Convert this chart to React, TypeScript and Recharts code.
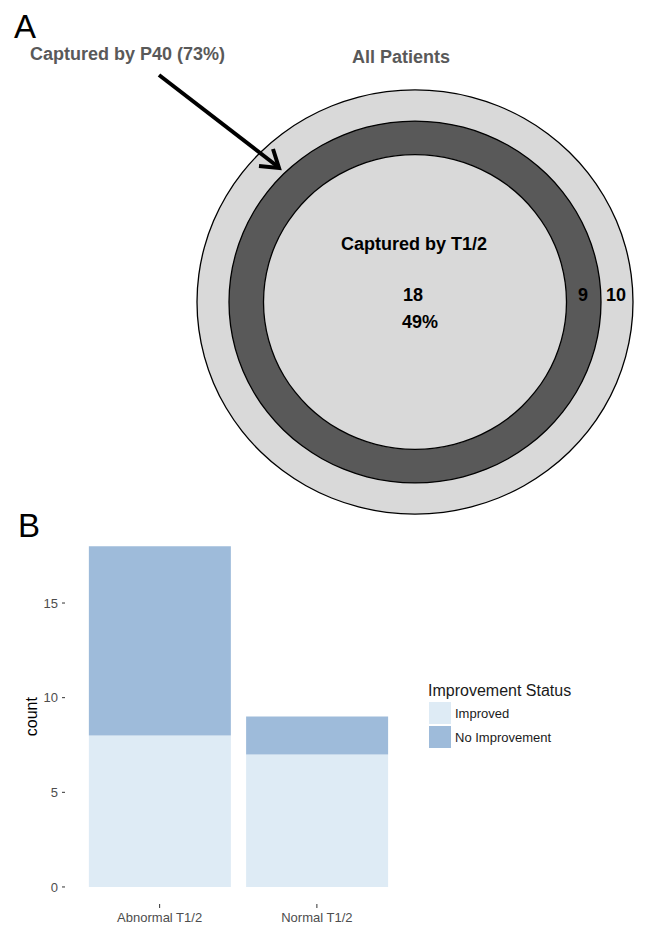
import { PieChart, Pie, BarChart, Bar, XAxis, YAxis, Legend } from "recharts";

// panel A: patients split by which test caught them
const vennGroups = ["Captured by T1/2", "Captured by P40 only", "Not captured"];
const vennCounts = [18, 9, 10];

// panel B: improvement by T1/2 result
const statusGroups = ["Abnormal T1/2", "Normal T1/2"];
const improvedCounts = [8, 7];
const noImprovementCounts = [10, 2];
const countTicks = [0, 5, 10, 15];

const FONT = '"Liberation Sans", Arial, Helvetica, sans-serif';
const LIGHT_GREY = "#d9d9d9";
const DARK_GREY = "#595959";
const IMPROVED = "#deebf5";
const NO_IMPROVEMENT = "#9ebbda";

const total = vennCounts.reduce((a, b) => a + b, 0);
const pct = (n: number) => Math.round((n / total) * 100) + "%";

const barData = statusGroups.map((g, i) => ({
  group: g,
  improved: improvedCounts[i],
  noImprovement: noImprovementCounts[i],
}));

const slice = (i: number) => [{ name: vennGroups[i], value: vennCounts[i] }];

const CX = 415;
const CY = 302;
const R_OUT = 218;
const R_MID = 186;
const R_IN = 151.5;
const EDGE = 1.3;

function LegendBox(props: any) {
  const items = props.payload || [];
  return (
    <div style={{ fontFamily: FONT, color: "#1a1a1a" }}>
      <div style={{ fontSize: 16, lineHeight: "20px", whiteSpace: "nowrap" }}>Improvement Status</div>
      {items.map((it: any) => (
        <div key={it.value} style={{ display: "flex", alignItems: "center", height: 24 }}>
          <span style={{ display: "inline-block", width: 22, height: 22, background: it.color, marginLeft: 1, marginRight: 4 }} />
          <span style={{ fontSize: 13, whiteSpace: "nowrap" }}>{it.value}</span>
        </div>
      ))}
    </div>
  );
}

export default function App() {
  const p40 = vennCounts[0] + vennCounts[1];
  return (
    <div style={{ position: "absolute", left: 0, top: 0, width: 656, height: 951, background: "#fff", fontFamily: FONT }}>
      {/* A: nested circles */}
      <div style={{ position: "absolute", left: 0, top: 0, transform: "scaleY(0.973)", transformOrigin: `0px ${CY}px` }}>
        <PieChart width={656} height={560} margin={{ top: 0, right: 0, bottom: 0, left: 0 }}>
          <Pie data={slice(2)} dataKey="value" cx={CX} cy={CY} innerRadius={0} outerRadius={R_OUT} fill={LIGHT_GREY} stroke="none" isAnimationActive={false} legendType="none" />
          <Pie data={slice(1)} dataKey="value" cx={CX} cy={CY} innerRadius={R_IN} outerRadius={R_MID} fill={DARK_GREY} stroke="none" isAnimationActive={false} legendType="none" />
          <Pie data={slice(0)} dataKey="value" cx={CX} cy={CY} innerRadius={0} outerRadius={R_IN} fill={LIGHT_GREY} stroke="none" isAnimationActive={false} legendType="none" />
          {[R_OUT, R_MID, R_IN].map((r) => (
            <Pie key={r} data={slice(0)} dataKey="value" cx={CX} cy={CY} innerRadius={r - EDGE / 2} outerRadius={r + EDGE / 2} fill="#000" stroke="none" isAnimationActive={false} legendType="none" />
          ))}
        </PieChart>
      </div>
      <svg width={656} height={520} style={{ position: "absolute", left: 0, top: 0 }} fontFamily={FONT}>
        <text x={14} y={38} fontSize={33} fill="#000">A</text>
        <text x={30} y={60} fontSize={18} fontWeight="bold" fill="#595959">{`Captured by P40 (${pct(p40)})`}</text>
        <text x={401} y={63} fontSize={18} fontWeight="bold" fill="#595959" textAnchor="middle">All Patients</text>
        <line x1={159} y1={75} x2={277} y2={166} stroke="#000" strokeWidth={4} />
        <polyline points="259,166 279,168 273,149" fill="none" stroke="#000" strokeWidth={4} strokeLinejoin="miter" />
        <text x={414} y={250} fontSize={18} fontWeight="bold" fill="#000" textAnchor="middle">Captured by T1/2</text>
        <text x={413} y={301} fontSize={18} fontWeight="bold" fill="#000" textAnchor="middle">{vennCounts[0]}</text>
        <text x={420} y={327.5} fontSize={18} fontWeight="bold" fill="#000" textAnchor="middle">{pct(vennCounts[0])}</text>
        <text x={583} y={301} fontSize={18} fontWeight="bold" fill="#000" textAnchor="middle">{vennCounts[1]}</text>
        <text x={616} y={301} fontSize={18} fontWeight="bold" fill="#000" textAnchor="middle">{vennCounts[2]}</text>
      </svg>

      {/* B: stacked counts */}
      <div style={{ position: "absolute", left: 0, top: 500 }}>
        <BarChart width={656} height={451} data={barData} margin={{ top: 29.2, right: 244.5, left: 0, bottom: 17 }} barCategoryGap="5%">
          <XAxis
            dataKey="group"
            axisLine={false}
            tickLine={{ stroke: "#333" }}
            tickSize={4}
            tickMargin={5}
            padding={{ left: 16, right: 16 }}
            tick={{ fontSize: 13, fill: "#4d4d4d", fontFamily: FONT }}
            height={30}
          />
          <YAxis
            width={65}
            domain={[-0.9, 18.9]}
            ticks={countTicks}
            axisLine={false}
            tickLine={{ stroke: "#333" }}
            tickSize={3}
            tickMargin={4}
            tick={{ fontSize: 13, fill: "#4d4d4d", fontFamily: FONT }}
            label={{ value: "count", angle: -90, position: "insideLeft", offset: 31, style: { textAnchor: "middle", fontSize: 16, fill: "#000", fontFamily: FONT } }}
          />
          <Legend layout="vertical" align="center" verticalAlign="middle" content={LegendBox} wrapperStyle={{ left: 428, top: 181, width: 200 }} />
          <Bar dataKey="improved" name="Improved" stackId="a" fill={IMPROVED} isAnimationActive={false} />
          <Bar dataKey="noImprovement" name="No Improvement" stackId="a" fill={NO_IMPROVEMENT} isAnimationActive={false} />
        </BarChart>
      </div>
      <svg width={60} height={56} style={{ position: "absolute", left: 0, top: 496 }} fontFamily={FONT}>
        <text x={18} y={41} fontSize={33} fill="#000">B</text>
      </svg>
    </div>
  );
}
